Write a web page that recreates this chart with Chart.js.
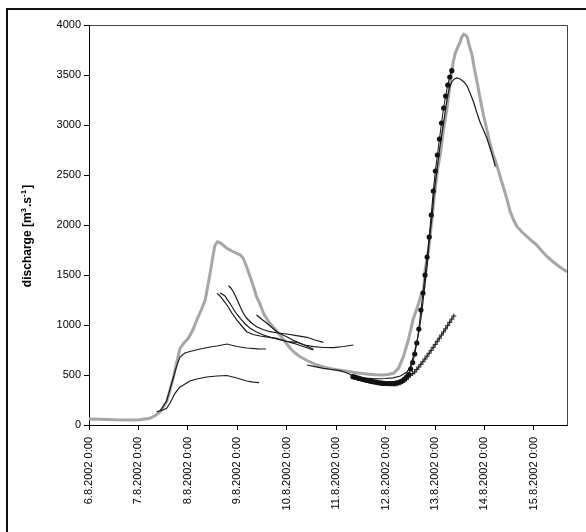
<!DOCTYPE html>
<html><head><meta charset="utf-8">
<script src="https://cdn.jsdelivr.net/npm/chart.js@4.4.0/dist/chart.umd.min.js"></script>
<style>html,body{margin:0;padding:0;background:#fff;}canvas{display:block;}</style>
</head><body>
<canvas id="c" width="586" height="532"></canvas>
<script>
// ---- tick labels ----
const dayLabels = ['6.8.2002 0:00','7.8.2002 0:00','8.8.2002 0:00','9.8.2002 0:00','10.8.2002 0:00',
  '11.8.2002 0:00','12.8.2002 0:00','13.8.2002 0:00','14.8.2002 0:00','15.8.2002 0:00'];
const yTickValues = [0,500,1000,1500,2000,2500,3000,3500,4000];

// ---- observed discharge (days since 6.8.2002 0:00) ----
const obsDays = [0.00,0.22,0.53,0.83,1.03,1.23,1.34,1.44,1.57,1.64,1.71,1.78,1.84,1.92,2.01,2.10,2.18,2.27,2.35,2.40,2.45,2.50,2.55,2.60,2.65,2.71,2.79,2.87,2.99,3.06,3.12,3.19,3.26,3.33,3.39,3.46,3.53,3.60,3.66,3.77,3.87,3.97,4.07,4.17,4.27,4.43,4.61,4.78,4.95,5.12,5.28,5.45,5.62,5.79,5.96,6.05,6.16,6.26,6.36,6.46,6.56,6.67,6.71,6.77,6.80,6.87,6.90,6.95,7.00,7.05,7.11,7.17,7.24,7.29,7.34,7.37,7.41,7.48,7.51,7.54,7.58,7.61,7.65,7.69,7.75,7.79,7.85,7.91,7.98,8.05,8.12,8.18,8.25,8.32,8.39,8.46,8.52,8.59,8.66,8.76,8.86,8.96,9.06,9.16,9.27,9.37,9.47,9.57,9.67];
const obsQ = [60,58,52,50,52,67,95,133,233,350,483,640,767,820,867,950,1050,1150,1250,1380,1517,1670,1800,1833,1825,1800,1767,1745,1717,1700,1667,1580,1483,1380,1283,1210,1117,1060,1017,955,895,830,767,720,683,640,600,575,557,545,533,520,510,503,500,505,517,567,683,850,1060,1220,1290,1360,1550,1750,1883,2120,2350,2550,2720,2950,3160,3350,3550,3633,3720,3800,3830,3880,3907,3900,3883,3800,3700,3580,3433,3270,3100,2950,2800,2700,2600,2480,2367,2250,2133,2050,1983,1930,1883,1840,1800,1740,1683,1640,1600,1565,1533];

// ---- forecasts (thin black lines) ----
const fcA_days = [1.44,1.57,1.71,1.78,1.84,1.94,2.04,2.25,2.45,2.59,2.79,2.99,3.19,3.42,3.58];
const fcA_q    = [140,240,480,600,680,720,735,760,780,790,810,785,770,762,760];
const fcB_days = [1.37,1.50,1.57,1.64,1.74,1.84,1.91,2.04,2.18,2.38,2.59,2.79,2.99,3.19,3.32,3.44];
const fcB_q    = [133,150,167,220,317,380,400,440,460,480,490,495,470,440,428,423];
const fcC1_days = [2.59,2.65,2.79,2.89,2.99,3.09,3.19,3.32,3.46,3.62,3.80,3.97,4.14,4.33,4.54];
const fcC1_q    = [1317,1290,1200,1120,1050,990,933,905,890,878,867,840,817,785,750];
const fcC2_days = [2.65,2.75,2.85,2.96,3.06,3.16,3.26,3.39,3.53,3.70,3.87,4.03,4.20,4.37,4.54,4.74,4.95,5.15,5.35];
const fcC2_q    = [1323,1290,1217,1130,1067,1010,967,930,900,873,850,835,827,800,783,775,773,785,800];
const fcC3_days = [2.82,2.87,2.92,2.99,3.06,3.12,3.19,3.29,3.39,3.52,3.66,3.83,4.00,4.20,4.41,4.57,4.74];
const fcC3_q    = [1393,1370,1333,1260,1183,1120,1067,1020,983,955,933,920,910,893,877,850,827];
const fcC4_days = [3.39,3.50,3.60,3.70,3.80,3.90,4.00,4.14,4.27,4.41,4.54];
const fcC4_q    = [1100,1055,1017,975,933,905,883,845,817,787,757];
const fcE_days = [4.41,4.57,4.74,4.91,5.08,5.22,5.35];
const fcE_q    = [600,583,567,555,543,520,490];
const fcF_days = [5.59,5.79,5.99,6.15,6.30,6.43,6.50,6.56,6.63,6.68,6.73,6.78,6.84,6.88,6.94,6.98,7.04,7.09,7.14,7.19,7.24,7.29,7.34,7.39,7.44,7.51,7.58,7.65,7.71,7.78,7.85,7.91,7.98,8.05,8.12,8.18,8.22];
const fcF_q    = [470,462,465,472,490,530,580,683,820,950,1120,1340,1583,1830,2083,2320,2550,2750,2917,3080,3250,3370,3433,3460,3470,3460,3433,3390,3317,3230,3117,3030,2950,2867,2760,2660,2583];

// ---- hourly forecast with dot markers ----
const dotStartDay = 5.34;
const dotQ = [483,478,472,466,460,455,450,445,440,436,432,428,424,421,418,416,415,414,414,415,417,420,425,432,442,458,478,505,560,625,710,820,960,1150,1320,1500,1680,1880,2100,2340,2540,2700,2860,3020,3170,3290,3400,3480,3543];
// ---- hourly forecast with cross markers ----
const plusStartDay = 6.13;
const plusQ = [410,408,410,415,422,432,445,462,480,498,514,530,555,580,606,633,660,688,717,746,776,806,837,868,899,930,962,994,1026,1058,1090];

const pts = (xs, ys) => xs.map((x, i) => ({x, y: ys[i]}));
const hourly = (start, ys) => ys.map((y, i) => ({x: start + i / 24, y}));

const thin = (data) => ({data, borderColor:'#1a1a1a', borderWidth:1.2, pointRadius:0, tension:0, fill:false, order:1});

const FONT = "'Liberation Sans', Arial, sans-serif";

const decor = {
  id: 'decor',
  beforeDraw(chart) {
    const c = chart.ctx; c.save(); c.fillStyle = '#fff'; c.fillRect(0, 0, chart.width, chart.height); c.restore();
  },
  afterDraw(chart) {
    const c = chart.ctx, a = chart.chartArea;
    c.save();
    c.strokeStyle = '#444'; c.lineWidth = 1;
    c.beginPath();
    c.moveTo(a.left, Math.round(a.top) + 0.5);
    c.lineTo(Math.round(a.right) + 0.5, Math.round(a.top) + 0.5);
    c.lineTo(Math.round(a.right) + 0.5, a.bottom);
    c.stroke();
    // outer frame (top and left visible)
    c.fillStyle = '#111';
    c.fillRect(6, 8, chart.width - 6, 2);
    c.fillRect(6, 8, 2, chart.height - 8);
    // y title with superscripts
    c.translate(28, 236);
    c.rotate(-Math.PI / 2);
    c.fillStyle = '#000';
    c.textBaseline = 'middle';
    const parts = [['discharge [m', 12, 0], ['3', 8, -4], ['.s', 12, 0], ['-1', 8, -4], [']', 12, 0]];
    let total = 0;
    parts.forEach(p => { c.font = 'bold ' + p[1] + 'px ' + FONT; p.push(c.measureText(p[0]).width); total += p[3] + (p[1] === 8 ? 1 : 0); });
    let x = -total / 2;
    parts.forEach(p => { c.font = 'bold ' + p[1] + 'px ' + FONT; c.fillText(p[0], x, p[2]); x += p[3] + (p[1] === 8 ? 1 : 0); });
    c.restore();
  }
};

new Chart(document.getElementById('c'), {
  type: 'line',
  data: {
    datasets: [
      {data: pts(obsDays, obsQ), borderColor:'#a6a6a6', borderWidth:3, pointRadius:0, tension:0, fill:false, order:10},
      thin(pts(fcA_days, fcA_q)),
      thin(pts(fcB_days, fcB_q)),
      thin(pts(fcC1_days, fcC1_q)),
      thin(pts(fcC2_days, fcC2_q)),
      thin(pts(fcC3_days, fcC3_q)),
      thin(pts(fcC4_days, fcC4_q)),
      thin(pts(fcE_days, fcE_q)),
      thin(pts(fcF_days, fcF_q)),
      {data: hourly(dotStartDay, dotQ), borderColor:'#111', borderWidth:1, pointRadius:2.6, pointBackgroundColor:'#111', pointBorderColor:'#111', pointBorderWidth:0, pointStyle:'circle', tension:0, fill:false, order:2},
      {data: hourly(plusStartDay, plusQ), borderColor:'#222', borderWidth:1, pointRadius:2.5, pointBorderColor:'#222', pointBorderWidth:1, pointStyle:'cross', tension:0, fill:false, order:2}
    ]
  },
  options: {
    responsive: false,
    animation: false,
    events: [],
    layout: {padding: {left: 0, top: 25, right: 19, bottom: 0}},
    plugins: {legend: {display: false}, tooltip: {enabled: false}},
    scales: {
      x: {
        type: 'linear', min: 0, max: 9.67,
        afterFit: (s) => { s.height = 107; },
        grid: {drawOnChartArea: false, drawTicks: true, tickLength: 5, color: '#000'},
        border: {display: true, color: '#000', width: 1},
        ticks: {
          stepSize: 1, includeBounds: false, autoSkip: false,
          minRotation: 90, maxRotation: 90, padding: 7,
          color: '#000', font: {family: FONT, size: 11},
          callback: (v) => dayLabels[Math.round(v)] ?? ''
        }
      },
      y: {
        min: 0, max: 4000,
        afterFit: (s) => { s.width = 89; },
        afterBuildTicks: (s) => { s.ticks = yTickValues.map(v => ({value: v})); },
        grid: {drawOnChartArea: false, drawTicks: true, tickLength: 5, color: '#000'},
        border: {display: true, color: '#000', width: 1},
        ticks: {padding: 3, color: '#000', font: {family: FONT, size: 11}, callback: (v) => String(v)}
      }
    }
  },
  plugins: [decor]
});
</script>
</body></html>
